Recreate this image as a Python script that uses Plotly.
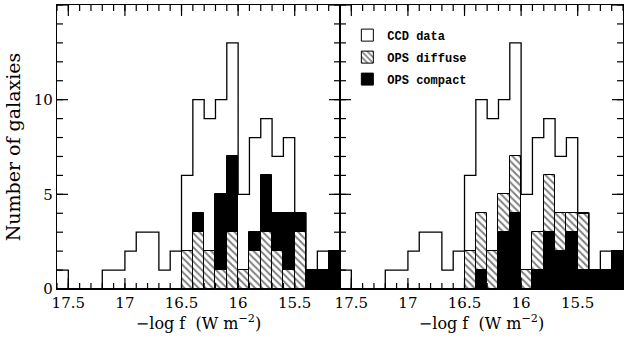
import plotly.graph_objects as go
from plotly.subplots import make_subplots

# bin centres of -log f, bins are 0.1 wide
bin_centres = [17.55, 17.45, 17.35, 17.25, 17.15, 17.05, 16.95, 16.85, 16.75, 16.65,
               16.55, 16.45, 16.35, 16.25, 16.15, 16.05, 15.95, 15.85, 15.75, 15.65,
               15.55, 15.45, 15.35, 15.25, 15.15]

ccd_counts = [1, 0, 0, 0, 1, 1, 2, 3, 3, 1, 2, 6, 10, 9, 10, 13, 5, 8, 9, 7, 8, 4, 1, 2, 2]

# left panel
left_diffuse = [0, 0, 0, 0, 0, 0, 0, 0, 0, 0, 0, 2, 3, 2, 1, 3, 1, 2, 3, 2, 1, 3, 0, 0, 0]
left_compact = [0, 0, 0, 0, 0, 0, 0, 0, 0, 0, 0, 0, 1, 0, 4, 4, 0, 1, 3, 2, 3, 1, 1, 1, 2]

# right panel
right_compact = [0, 0, 0, 0, 0, 0, 0, 0, 0, 0, 0, 0, 1, 0, 3, 4, 0, 1, 3, 2, 3, 1, 1, 1, 2]
right_diffuse = [0, 0, 0, 0, 0, 0, 0, 0, 0, 0, 0, 2, 3, 2, 2, 3, 1, 2, 3, 2, 1, 3, 0, 0, 0]

x_range = [17.6, 15.1]
y_range = [0, 15]
x_ticks = [17.5, 17, 16.5, 16, 15.5]
x_ticktext = ['17.5', '17', '16.5', '16', '15.5']
y_ticks = [0, 5, 10, 15]
y_minor = list(range(16))

SERIF = 'DejaVu Serif'
hatch = dict(shape='\\', fgcolor='black', bgcolor='white', size=5, solidity=0.4)
bw = 0.1

# step outline for the CCD histogram
edges = [c + bw / 2 for c in bin_centres] + [bin_centres[-1] - bw / 2]
steps = ccd_counts + [ccd_counts[-1]]

fig = make_subplots(rows=1, cols=2, horizontal_spacing=0)


def add_bars(col, bottom, top, bottom_style, top_style, legend):
    for vals, base, style in [(bottom, None, bottom_style), (top, bottom, top_style)]:
        name, kind = style
        marker = dict(color='black', line=dict(color='black', width=1))
        if kind == 'hatch':
            marker = dict(color='white', pattern=hatch, line=dict(color='black', width=1))
        fig.add_trace(go.Bar(x=bin_centres, y=vals, base=base, width=bw, marker=marker,
                             name=name, showlegend=legend, legendgroup=name,
                             legendrank=2 if kind == 'hatch' else 3),
                      row=1, col=col)


# legend entry for the CCD outline
fig.add_trace(go.Bar(x=[None], y=[None], name='CCD data', legendrank=1, legendgroup='ccd',
                     marker=dict(color='white', line=dict(color='black', width=1))),
              row=1, col=2)

add_bars(1, left_diffuse, left_compact, ('OPS diffuse', 'hatch'), ('OPS compact', 'solid'), False)
add_bars(2, right_compact, right_diffuse, ('OPS compact', 'solid'), ('OPS diffuse', 'hatch'), True)

for col in (1, 2):
    fig.add_trace(go.Scatter(x=edges, y=steps, mode='lines', line_shape='hv',
                             line=dict(color='black', width=1.3), showlegend=False,
                             hoverinfo='skip'),
                  row=1, col=col)

# inward tick marks on all four sides of each panel, as short line shapes
MAJOR_X, MINOR_X = 11 / 284, 6 / 284   # fraction of panel height
MAJOR_Y, MINOR_Y = 11 / 283, 6 / 283   # fraction of panel width
tick_line = dict(color='black', width=1.2)
for xa, ya in (('x', 'y'), ('x2', 'y2')):
    for xv in edges:
        fig.add_shape(type='line', xref=xa, yref=ya + ' domain', x0=xv, x1=xv,
                      y0=0, y1=MINOR_X, line=tick_line)
        fig.add_shape(type='line', xref=xa, yref=ya + ' domain', x0=xv, x1=xv,
                      y0=1, y1=1 - MINOR_X, line=tick_line)
    for xv in x_ticks:
        fig.add_shape(type='line', xref=xa, yref=ya + ' domain', x0=xv, x1=xv,
                      y0=0, y1=MAJOR_X, line=tick_line)
        fig.add_shape(type='line', xref=xa, yref=ya + ' domain', x0=xv, x1=xv,
                      y0=1, y1=1 - MAJOR_X, line=tick_line)
    for yv in y_minor:
        fig.add_shape(type='line', xref=xa + ' domain', yref=ya, y0=yv, y1=yv,
                      x0=0, x1=MINOR_Y, line=tick_line)
        fig.add_shape(type='line', xref=xa + ' domain', yref=ya, y0=yv, y1=yv,
                      x0=1, x1=1 - MINOR_Y, line=tick_line)
    for yv in y_ticks:
        fig.add_shape(type='line', xref=xa + ' domain', yref=ya, y0=yv, y1=yv,
                      x0=0, x1=MAJOR_Y, line=tick_line)
        fig.add_shape(type='line', xref=xa + ' domain', yref=ya, y0=yv, y1=yv,
                      x0=1, x1=1 - MAJOR_Y, line=tick_line)

tick_font = dict(family=SERIF, size=15, color='black')
title_font = dict(family=SERIF, size=16, color='black')
xtitle = dict(text='\u2212log f  (W m<sup>\u22122</sup>)', font=title_font, standoff=4)

axis_common = dict(showline=True, linecolor='black', linewidth=1.3, mirror=True,
                   ticks='', showgrid=False, zeroline=False, automargin=False,
                   tickfont=tick_font)

fig.update_layout(
    xaxis=dict(axis_common, range=x_range, tickvals=x_ticks, ticktext=x_ticktext, title=xtitle),
    xaxis2=dict(axis_common, range=x_range, tickvals=x_ticks, ticktext=x_ticktext, title=xtitle),
    yaxis=dict(axis_common, range=y_range, tickvals=y_ticks,
               title=dict(text='Number of galaxies',
                          font=dict(family=SERIF, size=19, color='black'), standoff=8)),
    yaxis2=dict(axis_common, range=y_range, tickvals=y_ticks, showticklabels=False),
)

fig.update_layout(
    width=624, height=339,
    margin=dict(l=57, r=1, t=5, b=50),
    barmode='overlay', bargap=0,
    plot_bgcolor='white', paper_bgcolor='white',
    legend=dict(x=0.513, y=0.945, xanchor='left', yanchor='top',
                bgcolor='rgba(0,0,0,0)', traceorder='grouped',
                font=dict(family='Liberation Mono', size=12, color='black', weight='bold'),
                tracegroupgap=3, itemwidth=30),
)

fig.write_html("out.html", config={'displayModeBar': False},
               post_script="document.body.style.margin = '0';")
